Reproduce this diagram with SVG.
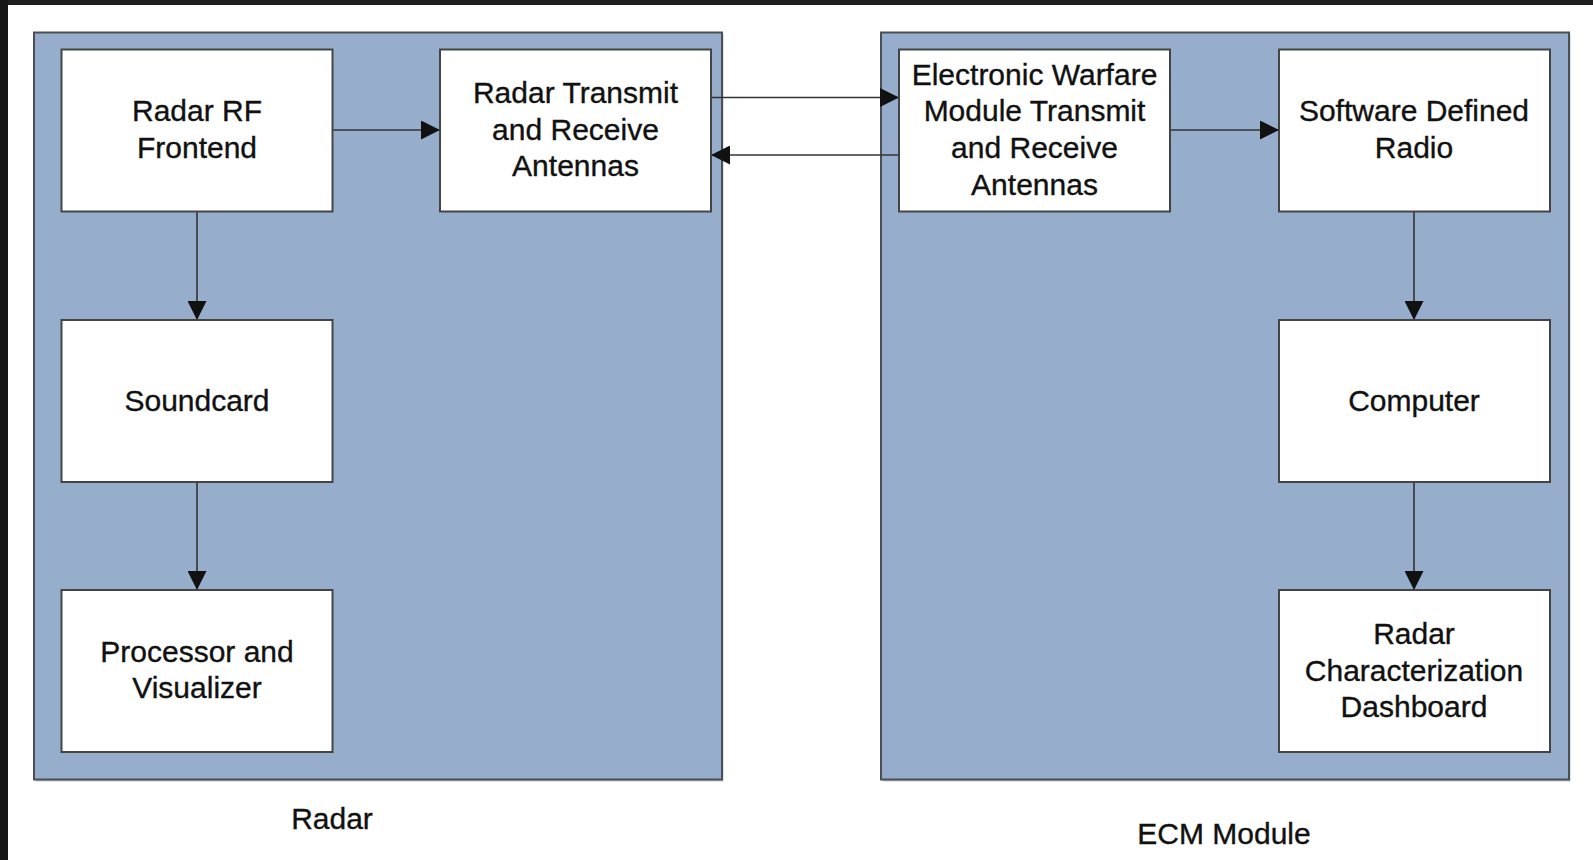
<svg xmlns="http://www.w3.org/2000/svg" width="1593" height="860" viewBox="0 0 1593 860">
  <style>
    .frame { fill: #96aecb; stroke: #4a4f57; stroke-width: 2; }
    .shadow { fill: #7a7f88; opacity: 0.45; }
    .box { fill: #ffffff; stroke: #444444; stroke-width: 2; }
    .lbl { font-family: "Liberation Sans", Arial, sans-serif; font-size: 30px; fill: #111111; stroke: #111111; stroke-width: 0.35; text-anchor: middle; }
    .wire { fill: none; stroke: #333333; stroke-width: 1.6; }
  </style>
  <defs>
    <marker id="arrow" markerUnits="userSpaceOnUse" markerWidth="19" markerHeight="19" refX="19" refY="9.5" orient="auto">
      <path d="M0,0 L19,9.5 L0,19 Z" fill="#111111"/>
    </marker>
  </defs>

  <!-- page background with dark edge bands -->
  <rect x="0" y="0" width="1593" height="860" fill="#ffffff"/>
  <rect x="0" y="0" width="1593" height="5" fill="#1e1e1e"/>
  <rect x="0" y="0" width="8" height="860" fill="#161616"/>

  <!-- subsystem containers -->
  <g id="radar-system">
    <rect class="shadow" x="35.5" y="34" width="688" height="747.5"/>
    <rect class="frame" x="34" y="32.5" width="688" height="747"/>
    <text class="lbl" x="332" y="828.5">Radar</text>
  </g>
  <g id="ecm-system">
    <rect class="shadow" x="882.5" y="34" width="688" height="747.5"/>
    <rect class="frame" x="881" y="32.5" width="688" height="747"/>
    <text class="lbl" x="1224" y="843.5">ECM Module</text>
  </g>

  <!-- connectors -->
  <g id="connectors">
    <line class="wire" x1="333" y1="130" x2="440" y2="130" marker-end="url(#arrow)"/>
    <line class="wire" x1="711" y1="97.5" x2="899" y2="97.5" marker-end="url(#arrow)"/>
    <line class="wire" x1="899" y1="155" x2="711" y2="155" marker-end="url(#arrow)"/>
    <line class="wire" x1="1170" y1="130" x2="1279" y2="130" marker-end="url(#arrow)"/>
    <line class="wire" x1="197" y1="211" x2="197" y2="320" marker-end="url(#arrow)"/>
    <line class="wire" x1="197" y1="481.5" x2="197" y2="590" marker-end="url(#arrow)"/>
    <line class="wire" x1="1414" y1="211" x2="1414" y2="320" marker-end="url(#arrow)"/>
    <line class="wire" x1="1414" y1="481.5" x2="1414" y2="590" marker-end="url(#arrow)"/>
  </g>

  <!-- radar side -->
  <g id="radar-rf-frontend">
    <rect class="box" x="61.5" y="49.5" width="271" height="162"/>
    <text class="lbl" x="197" y="121">Radar RF</text>
    <text class="lbl" x="197" y="157.5">Frontend</text>
  </g>
  <g id="radar-antennas">
    <rect class="box" x="440" y="49.5" width="271" height="162"/>
    <text class="lbl" x="575.5" y="103">Radar Transmit</text>
    <text class="lbl" x="575.5" y="139.5">and Receive</text>
    <text class="lbl" x="575.5" y="176">Antennas</text>
  </g>
  <g id="soundcard">
    <rect class="box" x="61.5" y="320" width="271" height="162"/>
    <text class="lbl" x="197" y="411">Soundcard</text>
  </g>
  <g id="processor-visualizer">
    <rect class="box" x="61.5" y="590" width="271" height="162"/>
    <text class="lbl" x="197" y="661.5">Processor and</text>
    <text class="lbl" x="197" y="698">Visualizer</text>
  </g>

  <!-- ECM side -->
  <g id="ew-antennas">
    <rect class="box" x="899" y="49.5" width="271" height="162"/>
    <text class="lbl" x="1034.5" y="84.5">Electronic Warfare</text>
    <text class="lbl" x="1034.5" y="121">Module Transmit</text>
    <text class="lbl" x="1034.5" y="158">and Receive</text>
    <text class="lbl" x="1034.5" y="195">Antennas</text>
  </g>
  <g id="software-defined-radio">
    <rect class="box" x="1279" y="49.5" width="271" height="162"/>
    <text class="lbl" x="1414" y="121">Software Defined</text>
    <text class="lbl" x="1414" y="157.5">Radio</text>
  </g>
  <g id="computer">
    <rect class="box" x="1279" y="320" width="271" height="162"/>
    <text class="lbl" x="1414" y="411">Computer</text>
  </g>
  <g id="characterization-dashboard">
    <rect class="box" x="1279" y="590" width="271" height="162"/>
    <text class="lbl" x="1414" y="644">Radar</text>
    <text class="lbl" x="1414" y="680.5">Characterization</text>
    <text class="lbl" x="1414" y="717">Dashboard</text>
  </g>
</svg>
